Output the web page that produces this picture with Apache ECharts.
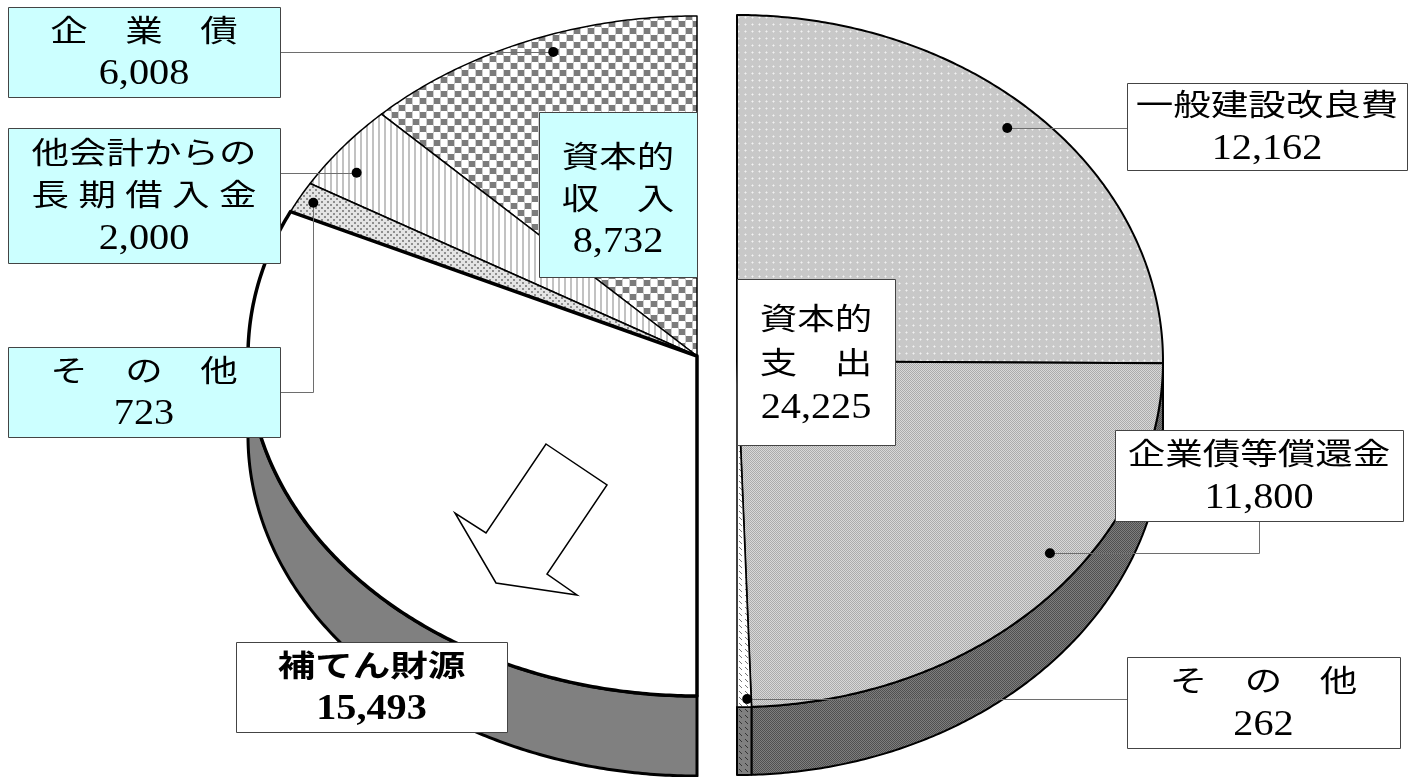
<!DOCTYPE html>
<html><head><meta charset="utf-8">
<script src="https://cdn.jsdelivr.net/npm/echarts@6/dist/echarts.min.js"></script>
<style>html,body{margin:0;padding:0;background:#fff}#c{width:1411px;height:777px}</style>
</head><body><div id="c"></div>
<script>
// ---------------- data ----------------
const incomeNames = ['企　業　債', '他会計からの\n長 期 借 入 金', 'そ　の　他', '補てん財源'];
const incomeValues = [6008, 2000, 723, 15493];
const incomeTotalName = ['資本的', '収　入'];
const incomeTotal = 8732;
const expenseNames = ['一般建設改良費', '企業債等償還金', 'そ　の　他'];
const expenseValues = [12162, 11800, 262];
const expenseTotalName = ['資本的', '支　出'];
const expenseTotal = 24225;

// ---------------- patterns ----------------
function mk(w, h, draw) {
  const c = document.createElement('canvas'); c.width = w; c.height = h;
  const g = c.getContext('2d'); draw(g, w, h); return { image: c, repeat: 'repeat' };
}
const PAT = {
  checker: mk(14, 14, g => { g.fillStyle = '#fff'; g.fillRect(0,0,14,14); g.fillStyle = '#cfcfcf'; g.fillRect(6,0,1,14); g.fillRect(13,0,1,14);
    g.fillStyle = '#7c7c7c'; g.fillRect(0,0,6,6); g.fillRect(7,7,6,6); }),
  vlines: mk(6, 2, g => { g.fillStyle = '#fff'; g.fillRect(0,0,6,2); g.fillStyle = '#c2c2c2'; g.fillRect(0,0,2,2); }),
  dots: mk(6, 6, g => { g.fillStyle = '#e4e4e4'; g.fillRect(0,0,6,6); g.fillStyle = '#8e8e8e'; g.fillRect(0,0,2,2); g.fillRect(3,3,2,2); }),
  white: '#ffffff',
  greyDots: mk(7, 7, g => { g.fillStyle = '#c8c8c8'; g.fillRect(0,0,7,7); g.fillStyle = '#f2f2f2'; g.fillRect(3,3,1,1); g.fillStyle = '#dedede'; g.fillRect(2,3,1,1); g.fillRect(4,3,1,1); g.fillRect(3,2,1,1); g.fillRect(3,4,1,1); }),
  dither: mk(2, 2, g => { g.fillStyle = '#d8d8d8'; g.fillRect(0,0,2,2); g.fillStyle = '#ababab'; g.fillRect(0,0,1,1); g.fillRect(1,1,1,1); }),
  ditherDark: mk(2, 2, g => { g.fillStyle = '#7e7e7e'; g.fillRect(0,0,2,2); g.fillStyle = '#505050'; g.fillRect(0,0,1,1); g.fillRect(1,1,1,1); }),
  hatch: mk(6, 6, g => { g.fillStyle = '#fff'; g.fillRect(0,0,6,6); g.strokeStyle = '#777'; g.beginPath(); g.moveTo(1,1); g.lineTo(4,4); g.stroke(); }),
  hatchDark: mk(6, 6, g => { g.fillStyle = '#808080'; g.fillRect(0,0,6,6); g.strokeStyle = '#333'; g.beginPath(); g.moveTo(1,1); g.lineTo(4,4); g.stroke(); })
};

// ---------------- layout ----------------
const FAM = "'Liberation Serif','Noto Sans CJK JP',serif";
const SX = 1.25, NSX = 1.15, LH = 42;

const LEFT = {
  cx: 697, cy: 356, rx: 449, ry: 340, depth: 80, dir: -1,
  names: incomeNames, values: incomeValues,
  top: [PAT.checker, PAT.vlines, PAT.dots, PAT.white],
  side: ['#808080', '#808080', '#808080', '#808080'],
  lw: [1.5, 1.5, 1.5, 3.5],
  anchor: [[19.7, 0.95], [54.6, 0.93], [62.2, 0.966], null],
  box: [[8, 7, 272, 90], [8, 128, 272, 135], [8, 347, 272, 90], [236, 642, 271, 90]],
  boxFill: ['#CCFFFF', '#CCFFFF', '#CCFFFF', '#ffffff'],
  bold: [false, false, false, true],
  leader: [{t: 'h', x: 280}, {t: 'h', x: 280}, {t: 'hv', x: 280, y: 392}, null],
  totalName: incomeTotalName, total: incomeTotal,
  totalBox: [539, 112, 158, 165], totalFill: '#CCFFFF', totalLines: [159, 201, 243]
};
const RIGHT = {
  cx: 737, cy: 361, rx: 426, ry: 346, depth: 68, dir: 1,
  names: expenseNames, values: expenseValues,
  top: [PAT.greyDots, PAT.dither, PAT.hatch],
  side: [PAT.ditherDark, PAT.ditherDark, PAT.hatchDark],
  lw: [2, 2, 1.5],
  anchor: [[43.3, 0.925], [127.1, 0.921], [178.6, 0.977]],
  box: [[1127, 83, 280, 87], [1115, 430, 288, 91], [1127, 657, 273, 91]],
  boxFill: ['#ffffff', '#ffffff', '#ffffff'],
  bold: [false, false, false],
  leader: [{t: 'h', x: 1127}, {t: 'vh', x: 1259, y: 521}, {t: 'h', x: 1127}],
  totalName: expenseTotalName, total: expenseTotal,
  totalBox: [737, 279, 158, 166], totalFill: '#ffffff', totalLines: [321, 365, 409]
};

function pt(p, th, r, dy) {
  const a = th * Math.PI / 180;
  return [p.cx + p.dir * p.rx * r * Math.sin(a), p.cy - p.ry * r * Math.cos(a) + (dy || 0)];
}
function arc(p, a, b, dy) {
  const pts = []; const n = Math.max(2, Math.ceil(Math.abs(b - a) / 0.5));
  for (let i = 0; i <= n; i++) pts.push(pt(p, a + (b - a) * i / n, 1, dy));
  return pts;
}
function fmt(v) { return v.toLocaleString('en-US'); }
function textEl(str, x, y, bold, isNum) {
  const size = isNum ? 35 : 30;
  return { type: 'text', x: x, y: y, scaleX: isNum ? NSX : SX, z2: 9,
    style: { text: str, x: 0, y: 0, fill: '#000', font: (bold ? 'bold ' : '') + size + 'px ' + FAM,
      align: 'center', verticalAlign: 'middle' } };
}
function boxEls(b, fill, lines, bold, starts) {
  const els = [{ type: 'rect', z2: 8, shape: { x: b[0] + 0.5, y: b[1] + 0.5, width: b[2], height: b[3] },
    style: { fill: fill, stroke: '#444', lineWidth: 1 } }];
  const cx = b[0] + b[2] / 2;
  const y0 = starts || lines.map((l, i) => b[1] + b[3] / 2 - (lines.length - 1) * LH / 2 + i * LH + 2);
  lines.forEach((l, i) => els.push(textEl(l, cx, y0[i], bold, i === lines.length - 1)));
  return els;
}

function makeRender(p) {
  const total = p.values.reduce((s, v) => s + v, 0);
  const starts = []; let acc = 0;
  p.values.forEach(v => { starts.push(acc / total * 180); acc += v; });
  return function (params, api) {
    const i = params.dataIndex;
    const v = api.value(0);
    const a = starts[i], b = a + v / total * 180;
    const ch = [];
    // side (front half only)
    const sa = Math.max(a, 90), sb = Math.min(b, 180);
    if (sb > sa) {
      const top = arc(p, sa, sb, 0), bot = arc(p, sb, sa, p.depth);
      ch.push({ type: 'polygon', z2: 1, shape: { points: top.concat(bot) },
        style: { fill: p.side[i], stroke: '#000', lineWidth: p.dir < 0 ? 3 : 2, lineJoin: 'round' } });
    }
    // top face
    const face = [[p.cx, p.cy]].concat(arc(p, a, b, 0));
    ch.push({ type: 'polygon', z2: 2 + (p.lw[i] > 2 ? 1 : 0), shape: { points: face },
      style: { fill: p.top[i], stroke: '#000', lineWidth: p.lw[i], lineJoin: 'round' } });
    // leader + dot
    if (p.anchor[i]) {
      const d = pt(p, p.anchor[i][0], p.anchor[i][1], 0);
      const L = p.leader[i]; let pts;
      if (L.t === 'h') pts = [[L.x, d[1]], d];
      else if (L.t === 'hv') pts = [[L.x, L.y], [d[0], L.y], d];
      else pts = [[L.x, L.y], [L.x, d[1]], d];
      pts = pts.map(q => [Math.round(q[0]) + 0.5, Math.round(q[1]) + 0.5]);
      ch.push({ type: 'polyline', z2: 6, shape: { points: pts }, style: { stroke: '#6e6e6e', lineWidth: 1, fill: null } });
      ch.push({ type: 'circle', z2: 7, shape: { cx: d[0], cy: d[1], r: 5 }, style: { fill: '#000' } });
    }
    // label box
    const lines = p.names[i].split('\n').concat([fmt(v)]);
    boxEls(p.box[i], p.boxFill[i], lines, p.bold[i]).forEach(e => ch.push(e));
    // total box (once)
    if (i === 0) {
      boxEls(p.totalBox, p.totalFill, p.totalName.concat([fmt(p.total)]), false, p.totalLines).forEach(e => ch.push(e));
    }
    return { type: 'group', children: ch };
  };
}

const chart = echarts.init(document.getElementById('c'), null, { renderer: 'canvas' });
chart.setOption({
  animation: false,
  backgroundColor: '#fff',
  series: [
    { type: 'custom', name: '資本的収入', coordinateSystem: 'none', renderItem: makeRender(LEFT),
      data: incomeValues.map(v => [v]), silent: true },
    { type: 'custom', name: '資本的支出', coordinateSystem: 'none', renderItem: makeRender(RIGHT),
      data: expenseValues.map(v => [v]), silent: true }
  ],
  graphic: [
    { type: 'polygon', z: 3,
      shape: { points: [[546, 444], [607, 485], [547, 574], [577, 595], [496, 583], [455, 513], [486, 533]] },
      style: { fill: '#fff', stroke: '#000', lineWidth: 1.5 } }
  ]
});
</script></body></html>
